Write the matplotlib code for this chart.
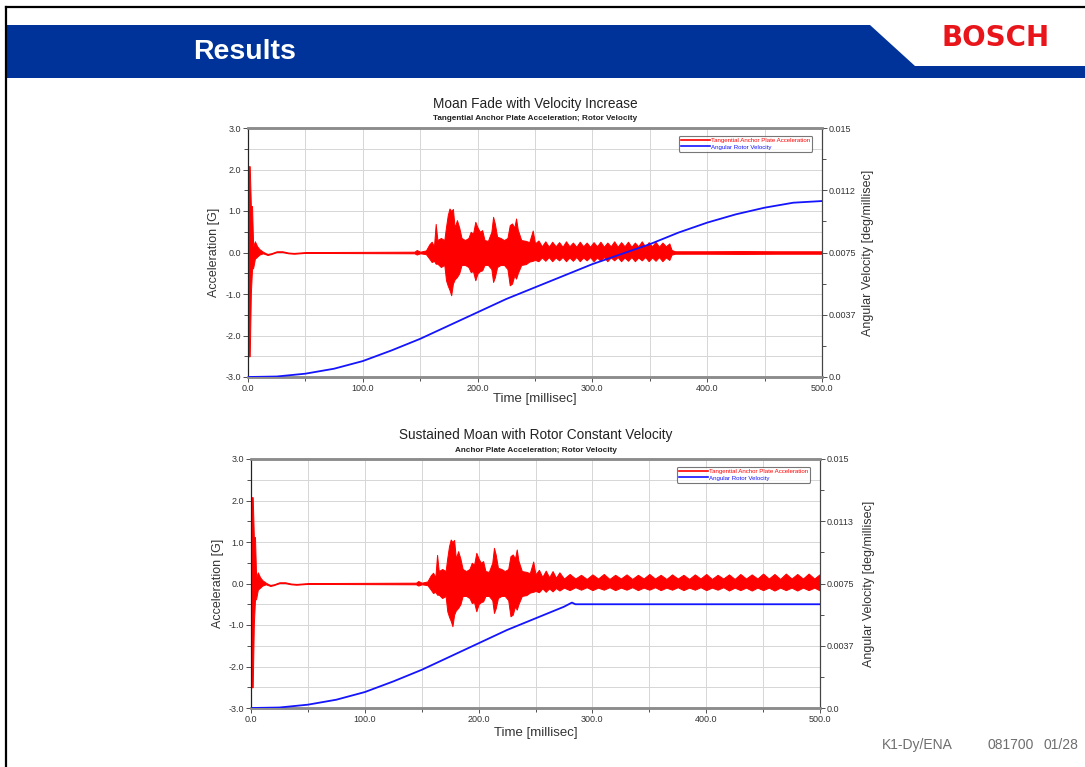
import matplotlib
matplotlib.use("Agg")
import matplotlib.pyplot as plt
from matplotlib.patches import Polygon
from matplotlib.lines import Line2D
from matplotlib.ticker import MultipleLocator, FixedLocator

W, H = 1085, 767
FONT = "Liberation Sans"

# acceleration envelope shared by both runs: time [ms], upper [G], lower [G]
burst_t = [0.0, 0.5, 1.5, 2.5, 3.5, 4.5, 6.0, 8.0, 10.0, 13.0, 17.0, 20.0, 25.0,
           30.0, 35.0, 40.0, 50.0, 145.0, 147.0, 150.0, 155.0, 158.0, 160.0, 162.0,
           163.5, 165.0, 168.0, 171.0, 172.5, 174.0, 175.5, 177.0, 178.5, 180.0,
           182.0, 184.0, 186.0, 189.0, 192.0, 194.0, 196.0, 198.0, 200.0, 202.0,
           204.0, 206.0, 209.0, 212.0, 213.5, 215.0, 217.0, 220.0, 223.0, 226.0,
           228.0, 230.0, 232.0, 233.5, 235.0, 238.0, 242.0, 245.0, 248.0, 250.0]
burst_hi = [0.0, 2.08, 2.08, 1.12, 1.12, 0.15, 0.27, 0.15, 0.08, 0.02, -0.04, -0.02, 0.03,
            0.03, 0.0, -0.01, 0.01, 0.02, 0.06, 0.02, 0.05, 0.2, 0.26, 0.15,
            0.69, 0.3, 0.35, 0.3, 0.62, 0.9, 1.06, 1.0, 1.05, 0.6,
            0.78, 0.6, 0.35, 0.3, 0.35, 0.5, 0.45, 0.74, 0.6, 0.5,
            0.54, 0.3, 0.28, 0.5, 0.86, 0.7, 0.38, 0.35, 0.3, 0.35,
            0.66, 0.7, 0.6, 0.82, 0.55, 0.3, 0.28, 0.25, 0.53, 0.22]
burst_lo = [0.0, -2.5, -2.5, -0.97, -0.4, -0.37, -0.15, -0.1, -0.05, -0.02, -0.06, -0.04, 0.01,
            0.01, -0.02, -0.03, -0.01, -0.02, -0.05, -0.02, -0.04, -0.15, -0.23, -0.2,
            -0.27, -0.27, -0.35, -0.3, -0.67, -0.8, -0.9, -1.03, -0.75, -0.65,
            -0.59, -0.5, -0.3, -0.3, -0.35, -0.47, -0.45, -0.67, -0.5, -0.45,
            -0.43, -0.3, -0.3, -0.4, -0.71, -0.6, -0.35, -0.3, -0.3, -0.4,
            -0.79, -0.75, -0.55, -0.63, -0.5, -0.3, -0.28, -0.22, -0.2, -0.18]

# run 1 tail: ringing dies out near 368 ms
tail1_t = [253, 256, 259, 262, 265, 268, 271, 274, 277, 280, 283, 286, 289, 292, 295,
           298, 301, 304, 307, 310, 313, 316, 319, 322, 325, 328, 331, 334, 337, 340,
           343, 346, 349, 352, 355, 358, 361, 364, 367, 369, 372, 400, 430, 460, 500]
tail1_hi = [0.29, 0.15, 0.27, 0.14, 0.26, 0.15, 0.25, 0.14, 0.27, 0.15, 0.24, 0.14, 0.26,
            0.15, 0.24, 0.14, 0.25, 0.15, 0.26, 0.14, 0.24, 0.15, 0.27, 0.14, 0.25, 0.15,
            0.26, 0.14, 0.24, 0.15, 0.27, 0.14, 0.25, 0.15, 0.26, 0.14, 0.24, 0.15, 0.22,
            0.06, 0.03, 0.03, 0.035, 0.03, 0.03]
tail1_lo = [-0.21, -0.12, -0.2, -0.11, -0.21, -0.12, -0.19, -0.11, -0.21, -0.12, -0.2,
            -0.11, -0.21, -0.12, -0.19, -0.11, -0.21, -0.12, -0.2, -0.11, -0.21, -0.12,
            -0.19, -0.11, -0.21, -0.12, -0.2, -0.11, -0.21, -0.12, -0.19, -0.11, -0.21,
            -0.12, -0.2, -0.11, -0.21, -0.12, -0.18, -0.05, -0.03, -0.03, -0.035, -0.03, -0.03]

# run 2 tail: sustained moan to 500 ms
tail2_t = [253, 256, 259, 262, 265, 268, 271, 275, 280, 285, 290, 295, 300, 305, 310,
           315, 320, 325, 330, 335, 340, 345, 350, 355, 360, 365, 370, 375, 380, 385,
           390, 395, 400, 405, 410, 415, 420, 425, 430, 435, 440, 445, 450, 455, 460,
           465, 470, 475, 480, 485, 490, 495, 500]
tail2_hi = [0.33, 0.16, 0.31, 0.15, 0.3, 0.14, 0.27, 0.12, 0.23, 0.12, 0.21, 0.11, 0.22,
            0.12, 0.23, 0.11, 0.21, 0.12, 0.22, 0.11, 0.21, 0.12, 0.23, 0.12, 0.21, 0.11,
            0.22, 0.12, 0.21, 0.11, 0.22, 0.12, 0.23, 0.11, 0.21, 0.12, 0.22, 0.11, 0.23,
            0.12, 0.22, 0.12, 0.24, 0.12, 0.23, 0.11, 0.24, 0.12, 0.23, 0.12, 0.24, 0.12, 0.23]
tail2_lo = [-0.21, -0.12, -0.2, -0.12, -0.19, -0.11, -0.17, -0.1, -0.16, -0.09, -0.15,
            -0.09, -0.16, -0.1, -0.15, -0.09, -0.16, -0.1, -0.15, -0.09, -0.16, -0.1,
            -0.15, -0.09, -0.16, -0.1, -0.15, -0.09, -0.16, -0.1, -0.15, -0.09, -0.16,
            -0.1, -0.15, -0.09, -0.17, -0.1, -0.16, -0.1, -0.17, -0.1, -0.16, -0.1,
            -0.17, -0.1, -0.16, -0.1, -0.17, -0.1, -0.16, -0.1, -0.17]

# rotor velocity [deg/millisec]
vel1_t = [0, 25, 50, 75, 100, 125, 150, 175, 200, 225, 250, 275, 300, 325, 350,
          375, 400, 425, 450, 475, 500]
vel1 = [0.0, 0.00003, 0.0002, 0.0005, 0.00096, 0.0016, 0.0023, 0.0031, 0.0039, 0.0047,
        0.0054, 0.0061, 0.0068, 0.0074, 0.0080, 0.0087, 0.0093, 0.0098, 0.0102, 0.0105, 0.0106]
vel2_t = [0, 25, 50, 75, 100, 125, 150, 175, 200, 225, 250, 275, 282, 285, 300, 400, 500]
vel2 = [0.0, 0.00003, 0.0002, 0.0005, 0.00096, 0.0016, 0.0023, 0.0031, 0.0039, 0.0047,
        0.0054, 0.0061, 0.00635, 0.00625, 0.00625, 0.00625, 0.00625]

x_ticks = [0, 100, 200, 300, 400, 500]
acc_ticks = [-3, -2, -1, 0, 1, 2, 3]
vel_ticks = [0.0, 0.00375, 0.0075, 0.01125, 0.015]
vel_labels1 = ["0.0", "0.0037", "0.0075", "0.0112", "0.015"]
vel_labels2 = ["0.0", "0.0037", "0.0075", "0.0113", "0.015"]

RED = "#ff0000"
BLUE = "#1414ff"
TICK_COL = "#333333"


def px_box(x0, y0, x1, y1):
    return [x0 / W, 1 - y1 / H, (x1 - x0) / W, (y1 - y0) / H]


def draw_chart(fig, box, title, subtitle, acc_t, acc_hi, acc_lo, vt, vv, vlabels, lab_pos):
    ax = fig.add_axes(px_box(*box))
    ax.set_xlim(0, 500)
    ax.set_ylim(-3, 3)
    ax.fill_between(acc_t, acc_lo, acc_hi, color=RED, lw=0.7, zorder=3)

    ax2 = ax.twinx()
    ax2.set_ylim(0, 0.015)
    ax2.plot(vt, vv, color=BLUE, lw=1.3, zorder=3)

    ax.xaxis.set_major_locator(FixedLocator(x_ticks))
    ax.xaxis.set_minor_locator(MultipleLocator(50))
    ax.set_xticklabels([f"{v:.1f}" for v in x_ticks])
    ax.yaxis.set_major_locator(FixedLocator(acc_ticks))
    ax.yaxis.set_minor_locator(MultipleLocator(0.5))
    ax.set_yticklabels([f"{v:.1f}" for v in acc_ticks])
    ax2.yaxis.set_major_locator(FixedLocator(vel_ticks))
    ax2.yaxis.set_minor_locator(MultipleLocator(0.001875))
    ax2.set_yticklabels(vlabels)

    for a in (ax, ax2):
        a.tick_params(which="both", labelsize=6.5, colors=TICK_COL, length=3.5, width=0.6, pad=1.5)
        a.tick_params(which="minor", length=3)
        for lab in a.get_xticklabels() + a.get_yticklabels():
            lab.set_family(FONT)

    ax.grid(True, which="both", axis="both", color="#d6d6d6", lw=0.7)

    for a in (ax, ax2):
        a.spines["top"].set_color("#8c8c8c")
        a.spines["top"].set_linewidth(1.8)
        a.spines["bottom"].set_color("#8c8c8c")
        a.spines["bottom"].set_linewidth(1.8)
        a.spines["left"].set_color("#222222")
        a.spines["left"].set_linewidth(0.8)
        a.spines["right"].set_color("#444444")
        a.spines["right"].set_linewidth(0.8)

    ax.set_xlabel("Time [millisec]", family=FONT, fontsize=9.5, color="#333333", labelpad=0)
    ax.xaxis.set_label_coords(0.5, lab_pos[0])
    ax.set_ylabel("Acceleration [G]", family=FONT, fontsize=9, color="#333333")
    ax.yaxis.set_label_coords(lab_pos[1], 0.5)
    ax2.set_ylabel("Angular Velocity [deg/millisec]", family=FONT, fontsize=9, color="#333333")
    ax2.yaxis.set_label_coords(lab_pos[2], 0.5)

    cx = (box[0] + box[2]) / 2 / W
    fig.text(cx, 1 - (box[1] - 24) / H, title, ha="center", va="center",
             family=FONT, fontsize=9.8, color="#222222")
    fig.text(cx, 1 - (box[1] - 9) / H, subtitle, ha="center", va="center",
             family=FONT, fontsize=5.9, fontweight="bold", color="#222222")

    handles = [Line2D([], [], color=RED, lw=1.2), Line2D([], [], color=BLUE, lw=1.2)]
    leg = ax.legend(handles, ["Tangential Anchor Plate Acceleration", "Angular Rotor Velocity"],
                    loc="upper right", bbox_to_anchor=(0.983, 0.968), prop={"family": FONT, "size": 4.4},
                    labelcolor="linecolor", frameon=True, fancybox=True, handlelength=4.8,
                    handletextpad=0.1, borderpad=0.35, labelspacing=0.15, borderaxespad=0)
    leg.get_frame().set_edgecolor("#555555")
    leg.get_frame().set_linewidth(0.8)
    leg.set_zorder(5)
    return ax


fig = plt.figure(figsize=(W / 100, H / 100), dpi=100)
fig.patch.set_facecolor("white")

# slide frame and header
fig.add_artist(plt.Line2D([6 / W, 6 / W], [0, 1 - 7 / H], color="black", lw=1.6))
fig.add_artist(plt.Line2D([6 / W, 1], [1 - 7 / H, 1 - 7 / H], color="black", lw=1.6))
bar = [(7, 25), (870, 25), (915, 66), (1085, 66), (1085, 78), (7, 78)]
fig.add_artist(Polygon([(x / W, 1 - y / H) for x, y in bar], closed=True,
                       facecolor="#003399", edgecolor="none"))
fig.text(193 / W, 1 - 52 / H, "Results", ha="left", va="center", family=FONT,
         fontsize=20.5, fontweight="bold", color="white")
fig.text(996 / W, 1 - 38 / H, "BOSCH", ha="center", va="center", family="DejaVu Sans",
         fontsize=20, fontweight="bold", color="#e8151b")
fig.text(882 / W, 1 - 745 / H, "K1-Dy/ENA", ha="left", va="center",
         family=FONT, fontsize=10, color="#6e6e6e")
fig.text(988 / W, 1 - 745 / H, "081700", ha="left", va="center",
         family=FONT, fontsize=10, color="#6e6e6e")
fig.text(1078 / W, 1 - 745 / H, "01/28", ha="right", va="center",
         family=FONT, fontsize=10, color="#6e6e6e")

draw_chart(fig, (248, 128, 822, 377), "Moan Fade with Velocity Increase",
           "Tangential Anchor Plate Acceleration; Rotor Velocity",
           burst_t + tail1_t, burst_hi + tail1_hi, burst_lo + tail1_lo,
           vel1_t, vel1, vel_labels1, (-0.064, -0.049, 1.070))
draw_chart(fig, (251, 459, 820, 708), "Sustained Moan with Rotor Constant Velocity",
           "Anchor Plate Acceleration; Rotor Velocity",
           burst_t + tail2_t, burst_hi + tail2_hi, burst_lo + tail2_lo,
           vel2_t, vel2, vel_labels2, (-0.076, -0.047, 1.076))

fig.savefig("out.png", dpi=100)
